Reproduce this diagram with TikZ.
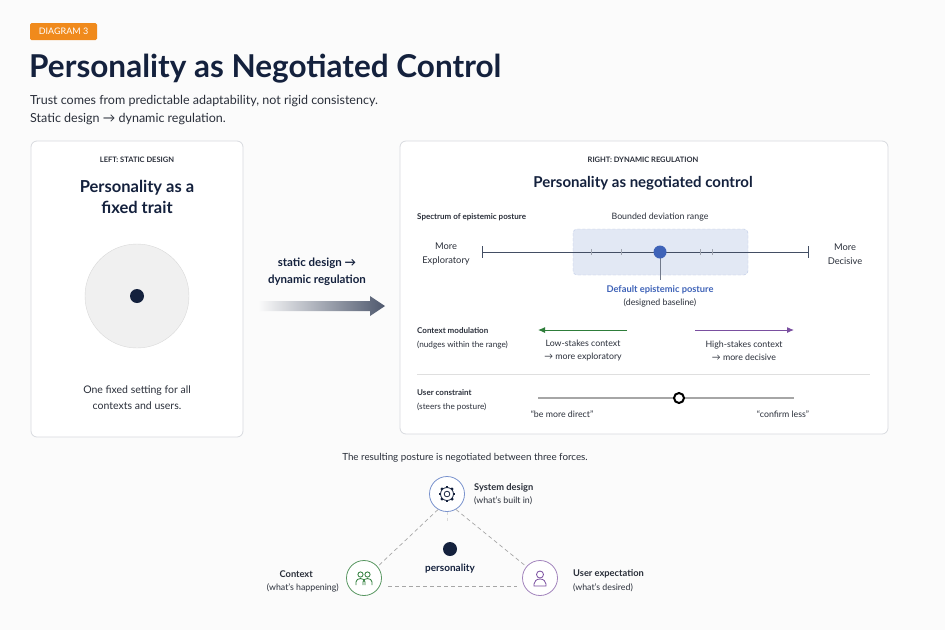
\documentclass[tikz,border=0pt]{standalone}
\usepackage{fontspec}
\setmainfont{Lato}
\usetikzlibrary{arrows.meta}
\definecolor{navy}{HTML}{14213D}
\definecolor{txt}{HTML}{2A2F3A}
\definecolor{orng}{HTML}{F08A1C}
\definecolor{pblue}{HTML}{3F63B8}
\definecolor{gborder}{HTML}{D8DADF}
\definecolor{grn}{HTML}{2E7D3A}
\definecolor{prp}{HTML}{7A4FA0}
\tikzset{
 panel/.style={draw=gborder,fill=white,rounded corners=6pt,line width=0.8pt},
 sm/.style={font=\fontsize{8.8}{10}\selectfont,text=txt,inner sep=0pt},
 smb/.style={font=\fontsize{8}{9}\selectfont\bfseries,text=txt,inner sep=0pt},
 hd/.style={font=\fontsize{7.5}{8}\selectfont\bfseries,text=txt,inner sep=0pt},
 dsh/.style={dash pattern=on 4pt off 3pt,draw=gray!70,line width=0.7pt},
}
\begin{document}
\begin{tikzpicture}[x=1pt,y=-1pt]
\fill[white!97!gray] (0,0) rectangle (945,630);
\useasboundingbox (0,0) rectangle (945,630);
% header
\node[fill=orng,rounded corners=1.5pt,text=white,font=\fontsize{9}{10}\selectfont,minimum width=67pt,minimum height=17pt,inner sep=0pt] (badge) at (63.5,31.5) {DIAGRAM 3};
\node[anchor=base west,font=\fontsize{31.5}{34}\selectfont\bfseries,text=navy,inner sep=0pt] (title) at (29,77) {Personality as Negotiated Control};
\node[anchor=base west,font=\fontsize{12.5}{14}\selectfont,text=txt,inner sep=0pt] (s1) at (30,104) {Trust comes from predictable adaptability, not rigid consistency.};
\node[anchor=base west,font=\fontsize{12.5}{14}\selectfont,text=txt,inner sep=0pt] (s2) at (30,122) {Static design → dynamic regulation.};
% left panel
\draw[panel] (31,141) rectangle (243,437);
\node[hd] (lh) at (137,160) {LEFT: STATIC DESIGN};
\node[font=\fontsize{16.5}{21}\selectfont\bfseries,text=navy,align=center,inner sep=0pt] (lt) at (137,197) {Personality as a\\fixed trait};
\draw[fill=gray!12,draw=gray!30] (137,296) circle (52);
\fill[navy] (137,296) circle (7);
\node[font=\fontsize{10.5}{16}\selectfont,text=txt,align=center,inner sep=0pt] (lc) at (137,398) {One fixed setting for all\\contexts and users.};
% middle arrow
\node[font=\fontsize{11.5}{17}\selectfont\bfseries,text=navy,align=center,inner sep=0pt] (mt) at (317,272) {static design →\\dynamic regulation};
\shade[left color=white!97!gray,right color=navy!75] (258,301) -- (370,301) -- (370,296) -- (385,306) -- (370,316) -- (370,311) -- (258,311) -- cycle;
% right panel
\draw[panel] (400,141) rectangle (888,434);
\node[hd] (rh) at (643,160) {RIGHT: DYNAMIC REGULATION};
\node[font=\fontsize{15}{16}\selectfont\bfseries,text=navy,inner sep=0pt] (rt) at (643,183) {Personality as negotiated control};
\node[smb,anchor=west] (sp) at (417,217) {Spectrum of epistemic posture};
\node[sm] (bd) at (660,217) {Bounded deviation range};
\draw[fill=pblue!15,draw=pblue!35,dash pattern=on 3pt off 2pt,rounded corners=4pt] (573,229) rectangle (748,275);
\draw[navy!80,line width=0.9pt] (482,252) -- (808,252);
\draw[navy!80,line width=0.9pt] (482,246) -- (482,258) (808,246) -- (808,258);
\foreach \x in {591,621,700,712} \draw[navy!40] (\x,249) -- (\x,255);
\draw[navy!60] (660,252) -- (660,280);
\fill[pblue] (660,252) circle (6.5);
\node[sm,align=center,font=\fontsize{9.3}{14}\selectfont] (me) at (446,254) {More\\Exploratory};
\node[sm,align=center,font=\fontsize{9.3}{14}\selectfont] (md) at (845,254) {More\\Decisive};
\node[font=\fontsize{9.3}{10}\selectfont\bfseries,text=pblue,inner sep=0pt] (de) at (660,290) {Default epistemic posture};
\node[sm] (db) at (660,303) {(designed baseline)};
\node[smb,anchor=west] (cm) at (417,331) {Context modulation};
\node[sm,anchor=west,font=\fontsize{8.2}{9}\selectfont] (cn) at (417,345) {(nudges within the range)};
\draw[-{Latex[length=7pt,width=6pt]},line width=1pt,grn] (627,330) -- (538,330);
\draw[-{Latex[length=7pt,width=6pt]},line width=1pt,prp] (695,330) -- (794,330);
\node[sm,align=center,font=\fontsize{8.8}{13}\selectfont] (ls) at (583,351) {Low-stakes context\\→ more exploratory};
\node[sm,align=center,font=\fontsize{8.8}{13}\selectfont] (hs) at (744,351) {High-stakes context\\→ more decisive};
\draw[gray!25] (417,374) -- (870,374);
\node[smb,anchor=west] (uc) at (417,393) {User constraint};
\node[sm,anchor=west,font=\fontsize{8.2}{9}\selectfont] (us) at (417,407) {(steers the posture)};
\draw[gray!70,line width=1.3pt] (538,398) -- (794,398);
\draw[fill=white,draw=black,line width=2pt] (679,398) circle (5);
\node[sm] (bm) at (562,414) {“be more direct”};
\node[sm] (cl) at (783,414) {“confirm less”};
% bottom
\node[font=\fontsize{9.8}{11}\selectfont,text=txt,inner sep=0pt] (cap) at (465,458) {The resulting posture is negotiated between three forces.};
\node[circle,draw=pblue!70,fill=white,minimum size=35pt,line width=0.8pt] (sys) at (447,494) {};
\node[circle,draw=grn!80,fill=white,minimum size=35pt,line width=0.8pt] (ctx) at (364,578) {};
\node[circle,draw=prp!70,fill=white,minimum size=35pt,line width=0.8pt] (usr) at (540,578) {};
\coordinate (bl) at (388,586);
\coordinate (br) at (517,586);
\draw[dsh] (sys.240) -- (ctx.40);
\draw[dsh] (sys.300) -- (usr.140);
\draw[dsh] (bl) -- (br);
\draw[gray!30,dash pattern=on 3pt off 3pt] (sys.south) -- ++(0,10);
\fill[navy] (450,549) circle (7);
\node[font=\fontsize{10}{11}\selectfont\bfseries,text=navy,inner sep=0pt] (pers) at (450,569) {personality};
% gear
\begin{scope}[shift={(447,494)},navy,line width=0.8pt]
\foreach \a in {0,45,...,315} \draw[line width=2.2pt] (\a:5.5) -- (\a:8.3);
\draw[fill=white] (0,0) circle (6.5);
\draw (0,0) circle (2.8);
\end{scope}
% people
\begin{scope}[shift={(364,578)},grn,line width=0.8pt]
\draw (-3.5,-3.5) circle (2.6); \draw (3.5,-3.5) circle (2.6);
\draw (-8,7) -- (-8,4) arc (180:360:4.5 and 3.5) -- (1,7);
\draw (-1,7) -- (-1,4) arc (180:360:4.5 and 3.5) -- (8,7);
\end{scope}
% user
\begin{scope}[shift={(540,578)},prp,line width=0.8pt]
\draw (0,-3.5) circle (3.5);
\draw (-6,8) -- (-6,6) arc (180:360:6 and 5) -- (6,8) -- cycle;
\end{scope}
\node[smb,anchor=west,font=\fontsize{9.3}{10}\selectfont\bfseries] (sdl) at (474,488) {System design};
\node[sm,anchor=west] (sdl2) at (474,501) {(what’s built in)};
\node[smb,anchor=east,font=\fontsize{9.3}{10}\selectfont\bfseries] (cxl) at (313,574) {Context};
\node[sm,anchor=east] (cxl2) at (339,588) {(what’s happening)};
\node[smb,anchor=west,font=\fontsize{9.3}{10}\selectfont\bfseries] (uel) at (573,574) {User expectation};
\node[sm,anchor=west] (uel2) at (573,588) {(what’s desired)};
\end{tikzpicture}
\end{document}
